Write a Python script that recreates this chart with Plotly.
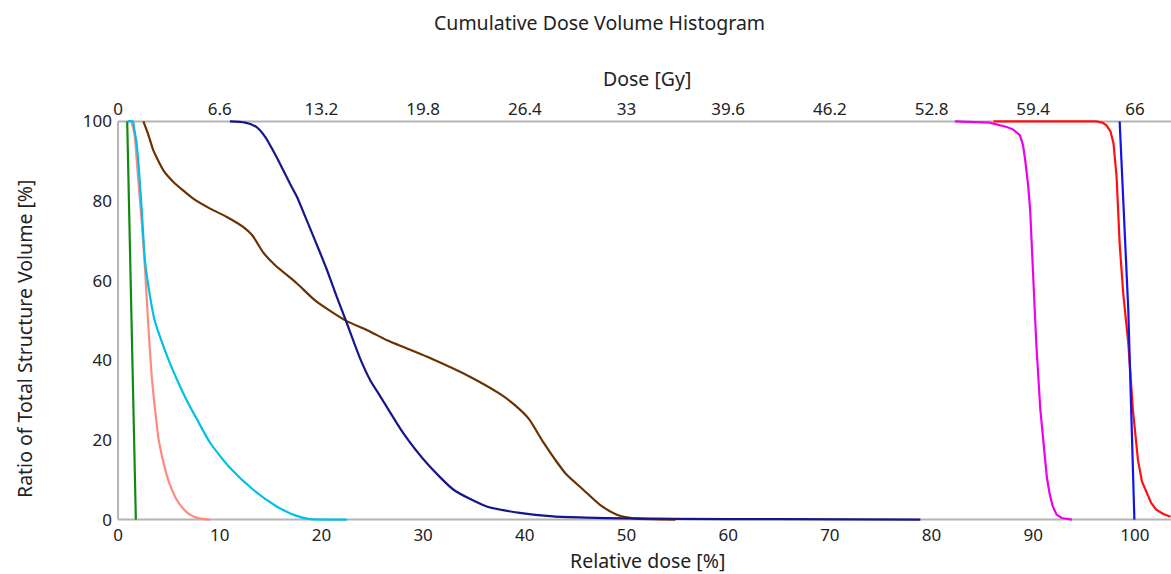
import plotly.graph_objects as go

# ---- data (relative dose [%], volume [%]) ----
green_x = [0.9, 1.1, 1.3, 1.5, 1.75]
green_y = [100, 75, 50, 25, 0]

pink_x = [1.3, 1.6, 2.0, 2.35, 2.65, 2.98, 3.31, 3.64, 4.0, 4.5, 5.0, 5.77, 6.5, 7.1, 8.0, 9.05]
pink_y = [100, 97, 85, 74, 63, 48.5, 36, 27.6, 20, 14, 9.5, 5, 2.5, 1.2, 0.3, 0]

cyan_x = [0.95, 1.45, 1.6, 1.83, 2.05, 2.33, 2.65, 3.15, 3.6, 4.13, 5.1, 6.0, 6.75, 7.8,
          9.05, 11.0, 13.3, 15.6, 17.0, 17.9, 18.9, 22.5]
cyan_y = [100, 100, 98, 94.4, 88, 77.7, 65, 56, 50, 45.9, 39.3, 34, 30, 25,
          19.3, 13, 7.5, 3.3, 1.5, 0.7, 0.1, 0]

brown_x = [2.49, 3.0, 3.47, 4.46, 5.44, 7.4, 9.05, 10.7, 12.3, 13.2, 14.3, 15.4, 17.6, 19.4,
           22.3, 24.8, 26.4, 30.4, 34.6, 37.6, 39.0, 40.4, 41.8, 43.0, 44.1, 45.75, 47.4,
           49.0, 50.7, 52.5, 54.8]
brown_y = [100, 96.5, 92.7, 87.7, 84.8, 80.6, 78.1, 76, 73.5, 71.4, 67, 64, 59.3, 55,
           50.1, 47.2, 45.1, 40.9, 35.9, 31.5, 28.8, 25.3, 19.5, 15, 11.3, 7.5, 3.7,
           1.3, 0.3, 0.1, 0]

navy_x = [11.0, 12.5, 13.6, 14.5, 15.6, 16.9, 17.6, 18.55, 19.5, 20.5, 21.5, 22.4, 23.8,
          24.8, 25.8, 28.05, 30.35, 33.0, 36.25, 39.5, 42.8, 46, 50, 55, 65, 78.9]
navy_y = [100, 99.7, 98.6, 96, 91, 84.4, 81, 75.2, 69.3, 63, 56, 50, 40.5,
          35, 30.9, 21.7, 14.2, 7.5, 3.3, 1.7, 0.8, 0.5, 0.3, 0.2, 0.1, 0]

magenta_x = [82.3, 85.7, 87.4, 88.0, 88.7, 89.0, 89.2, 89.5, 89.7, 90.0, 90.3, 90.7, 91.0,
             91.15, 91.35, 91.6, 91.9, 92.3, 92.8, 93.8]
magenta_y = [100, 99.7, 98.6, 98.0, 96.5, 94, 90.5, 84, 77.7, 61, 44.3, 27.6, 20,
             15, 10.5, 6.7, 3.5, 1.25, 0.4, 0]

red_x = [86.1, 96.2, 96.8, 97.2, 97.6, 97.9, 98.2, 98.5, 98.85, 99.35, 99.8, 100.1, 100.3,
         100.7, 101.15, 101.6, 102.1, 102.8, 103.5]
red_y = [100, 100, 99.7, 99, 97.5, 94.4, 86, 69.3, 56.8, 44.3, 27.6, 19, 15,
         9.5, 6.7, 4.2, 2.5, 1.4, 0.7]

blue_x = [98.5, 99.35, 99.95]
blue_y = [100, 52.6, 0]

x_ticks = [0, 10, 20, 30, 40, 50, 60, 70, 80, 90, 100]
y_ticks = [0, 20, 40, 60, 80, 100]
gy_ticks = [0, 6.6, 13.2, 19.8, 26.4, 33, 39.6, 46.2, 52.8, 59.4, 66]
gy_labels = ["0", "6.6", "13.2", "19.8", "26.4", "33", "39.6", "46.2", "52.8", "59.4", "66"]

GY_PER_PCT = 0.66
X_RANGE = [-0.3, 103.55]
Y_RANGE = [-0.6, 100.6]

FONT = "Noto Sans"
TXT = "#222222"

# plot-area geometry in pixels
L, T, W, H = 115, 119, 1056, 403
def px(x):
    return (x - L) / W
def py(y):
    return 1 - (y - T) / H

series = [
    (green_x, green_y, "#128a12", "linear"),
    (pink_x, pink_y, "#ff8a80", "spline"),
    (cyan_x, cyan_y, "#00c0e8", "spline"),
    (brown_x, brown_y, "#6b3200", "spline"),
    (navy_x, navy_y, "#16168a", "spline"),
    (magenta_x, magenta_y, "#ee00ee", "linear"),
    (red_x, red_y, "#ff1010", "linear"),
    (blue_x, blue_y, "#1414e6", "linear"),
]

fig = go.Figure()
for xs, ys, col, shp in series:
    fig.add_trace(go.Scatter(
        x=xs, y=ys, mode="lines",
        line=dict(color=col, width=2.2, shape=shp, smoothing=0.6 if shp == "spline" else None),
        showlegend=False, hoverinfo="skip",
    ))

# dummy trace for the top (Gy) axis
fig.add_trace(go.Scatter(x=[0], y=[0], xaxis="x2", mode="markers",
                         marker=dict(opacity=0), showlegend=False, hoverinfo="skip"))

axis_col = "#b4b4b4"
fig.add_shape(type="line", xref="x", yref="y", x0=0, x1=X_RANGE[1], y0=100, y1=100,
              line=dict(color=axis_col, width=2), layer="below")
fig.add_shape(type="line", xref="x", yref="y", x0=0, x1=X_RANGE[1], y0=0, y1=0,
              line=dict(color=axis_col, width=2), layer="below")
fig.add_shape(type="line", xref="x", yref="y", x0=0, x1=0, y0=0, y1=100,
              line=dict(color=axis_col, width=2), layer="below")

tickfont = dict(family=FONT, size=17, color=TXT)
fig.update_layout(
    width=1171, height=574,
    margin=dict(l=L, r=1171 - L - W, t=T, b=574 - T - H),
    paper_bgcolor="white", plot_bgcolor="white",
    xaxis=dict(range=X_RANGE, tickvals=x_ticks, showgrid=False, zeroline=False,
               showline=False, ticks="", tickfont=tickfont, ticklabelstandoff=1),
    xaxis2=dict(range=[X_RANGE[0] * GY_PER_PCT, X_RANGE[1] * GY_PER_PCT], overlaying="x",
                side="top", anchor="y", tickvals=gy_ticks, ticktext=gy_labels,
                showgrid=False, zeroline=False, showline=False, ticks="",
                tickfont=tickfont, ticklabelstandoff=0),
    yaxis=dict(range=Y_RANGE, tickvals=y_ticks, showgrid=False, zeroline=False,
               showline=False, ticks="", tickfont=tickfont, ticklabelstandoff=2),
    annotations=[
        dict(text="Cumulative Dose Volume Histogram", xref="paper", yref="paper",
             x=px(599), y=py(22), showarrow=False, xanchor="center", yanchor="middle",
             font=dict(family=FONT, size=19.5, color=TXT)),
        dict(text="Dose [Gy]", xref="paper", yref="paper",
             x=px(647), y=py(79), showarrow=False, xanchor="center", yanchor="middle",
             font=dict(family=FONT, size=19.5, color=TXT)),
        dict(text="Relative dose [%]", xref="paper", yref="paper",
             x=px(647), y=py(560), showarrow=False, xanchor="center", yanchor="middle",
             font=dict(family=FONT, size=19.5, color=TXT)),
        dict(text="Ratio of Total Structure Volume [%]", xref="paper", yref="paper",
             x=px(24), y=py(339), showarrow=False, xanchor="center", yanchor="middle",
             textangle=-90, font=dict(family=FONT, size=19.5, color=TXT)),
    ],
)

fig.write_html("out.html")
